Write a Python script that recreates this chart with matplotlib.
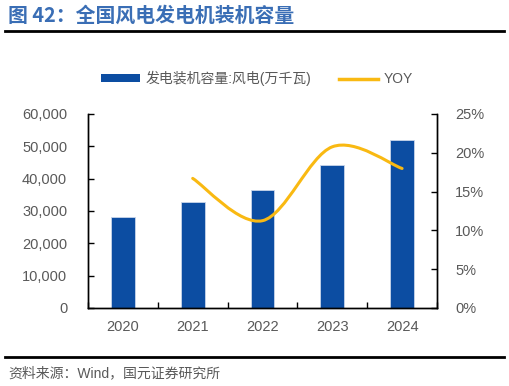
#!/usr/bin/env python3

import matplotlib
matplotlib.use("Agg")
import matplotlib.pyplot as plt
from matplotlib.path import Path
from matplotlib.patches import PathPatch
from matplotlib.lines import Line2D
from matplotlib.patches import Patch
from matplotlib.ticker import FuncFormatter, PercentFormatter

plt.rcParams["font.family"] = ["Liberation Sans", "Noto Sans CJK SC", "DejaVu Sans"]

YEARS = ["2020", "2021", "2022", "2023", "2024"]
CAPACITY = [28153, 32848, 36544, 44134, 52068]       # 万千瓦
YOY_YEARS = ["2021", "2022", "2023", "2024"]
YOY = [16.7, 11.25, 20.77, 17.98]                    # %

BAR_COLOR = "#0C4DA2"
LINE_COLOR = "#F9B912"
TEXT_GREY = "#595959"


def smooth_path(xs, ys):
    # Excel-style smoothed line: cubic bezier through every point
    n = len(xs)
    verts = [(xs[0], ys[0])]
    codes = [Path.MOVETO]
    for i in range(n - 1):
        p0 = (xs[max(i - 1, 0)], ys[max(i - 1, 0)])
        p1 = (xs[i], ys[i])
        p2 = (xs[i + 1], ys[i + 1])
        p3 = (xs[min(i + 2, n - 1)], ys[min(i + 2, n - 1)])
        c1 = (p1[0] + (p2[0] - p0[0]) / 6, p1[1] + (p2[1] - p0[1]) / 6)
        c2 = (p2[0] - (p3[0] - p1[0]) / 6, p2[1] - (p3[1] - p1[1]) / 6)
        verts += [c1, c2, p2]
        codes += [Path.CURVE4] * 3
    return Path(verts, codes)


def main():
    fig = plt.figure(figsize=(5.09, 3.86), dpi=100)
    ax = fig.add_axes([0.1729, 0.2021, 0.6856, 0.5026])
    ax2 = ax.twinx()

    x = list(range(len(YEARS)))
    ax.bar(x, CAPACITY, width=0.34, color=BAR_COLOR, edgecolor="#c9d5ea",
           linewidth=0.6, zorder=2)

    yx = [YEARS.index(y) for y in YOY_YEARS]
    ax2.add_patch(PathPatch(smooth_path(yx, YOY), facecolor="none",
                            edgecolor=LINE_COLOR, linewidth=2.2,
                            capstyle="round", zorder=3))

    ax.set_xlim(-0.5, len(YEARS) - 0.5)
    ax.set_ylim(0, 60000)
    ax.set_yticks(range(0, 60001, 10000))
    ax.yaxis.set_major_formatter(FuncFormatter(lambda v, _: f"{int(v):,}"))
    ax2.set_ylim(0, 25)
    ax2.set_yticks(range(0, 26, 5))
    ax2.yaxis.set_major_formatter(PercentFormatter(decimals=0))

    ax.set_xticks(x)
    ax.set_xticklabels(YEARS)
    ax.set_xticks([i + 0.5 for i in range(-1, len(YEARS))], minor=True)
    ax.tick_params(axis="x", which="major", length=0, pad=9)
    ax.tick_params(axis="x", which="minor", direction="in", length=4, width=1)
    ax.tick_params(axis="y", direction="in", length=4, width=1, pad=15)
    ax2.tick_params(axis="y", direction="in", length=4, width=1, pad=13)

    for a in (ax, ax2):
        a.spines["top"].set_visible(False)
        for s in ("left", "right", "bottom"):
            a.spines[s].set_linewidth(1)
            a.spines[s].set_color("black")
        a.tick_params(labelsize=10.5, labelcolor=TEXT_GREY)

    handles = [
        Patch(facecolor=BAR_COLOR, label="发电装机容量:风电(万千瓦)"),
        Line2D([], [], color=LINE_COLOR, linewidth=2.5, label="YOY"),
    ]
    leg = fig.legend(handles=handles, loc="center", bbox_to_anchor=(0.505, 0.797),
                     ncol=2, frameon=False, fontsize=10, handlelength=2.8,
                     handleheight=0.5, columnspacing=2.0, handletextpad=0.4)
    for t in leg.get_texts():
        t.set_color(TEXT_GREY)

    fig.text(0.016, 0.96, "图 42：全国风电发电机装机容量", fontsize=14.3,
             fontweight="bold", color="#3A6EB5", va="center",
             family=["Noto Sans CJK SC", "DejaVu Sans"])
    fig.add_artist(Line2D([0.01, 0.99], [0.92, 0.92], color="black", linewidth=2))
    fig.add_artist(Line2D([0.01, 0.99], [0.075, 0.075], color="black", linewidth=2))
    fig.text(0.016, 0.034, "资料来源：Wind，国元证券研究所", fontsize=10,
             color=TEXT_GREY, va="center")

    fig.savefig("out.png", dpi=100)


if __name__ == "__main__":
    main()
